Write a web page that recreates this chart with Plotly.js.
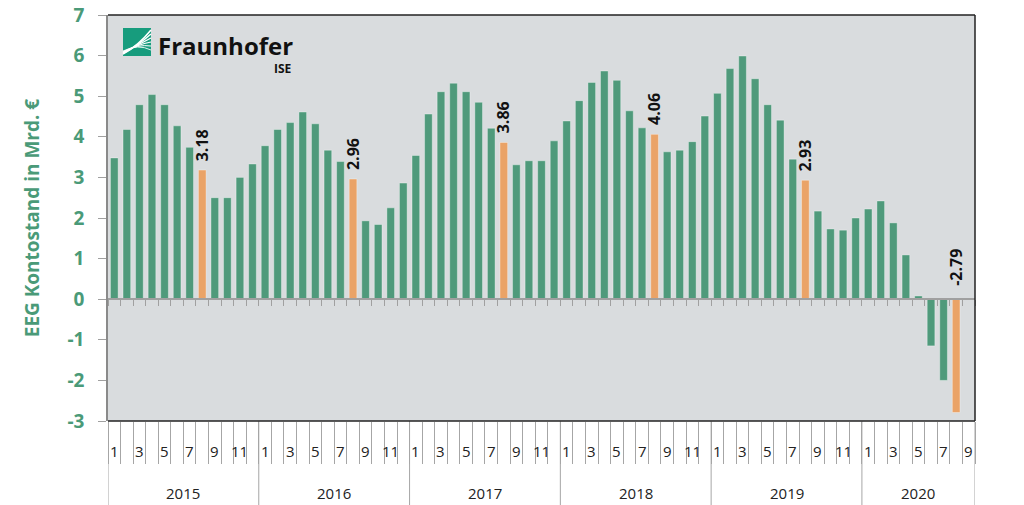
<!DOCTYPE html>
<html>
<head>
<meta charset="utf-8">
<script src="https://cdn.plot.ly/plotly-3.0.1.min.js"></script>
<style>
html, body { margin: 0; padding: 0; background: #fff; }
#chart { width: 1024px; height: 505px; }
</style>
</head>
<body>
<div id="chart"></div>
<script>
'use strict';

// ----- data (Mrd. EUR, end of month) -----
var years = ['2015', '2016', '2017', '2018', '2019', '2020'];
var monthsPerYear = [12, 12, 12, 12, 12, 9];
var monthLabels = ['1', '', '3', '', '5', '', '7', '', '9', '', '11', ''];
var yTicks = [-3, -2, -1, 0, 1, 2, 3, 4, 5, 6, 7];

var konto2015 = [3.48, 4.18, 4.79, 5.04, 4.79, 4.27, 3.74, 3.18, 2.50, 2.50, 3.00, 3.33];
var konto2016 = [3.78, 4.18, 4.35, 4.61, 4.32, 3.67, 3.39, 2.96, 1.93, 1.84, 2.25, 2.86];
var konto2017 = [3.54, 4.56, 5.11, 5.32, 5.11, 4.85, 4.21, 3.86, 3.31, 3.41, 3.41, 3.90];
var konto2018 = [4.39, 4.89, 5.34, 5.62, 5.39, 4.64, 4.22, 4.06, 3.63, 3.67, 3.88, 4.51];
var konto2019 = [5.07, 5.68, 5.99, 5.43, 4.79, 4.41, 3.45, 2.93, 2.17, 1.73, 1.70, 2.00];
var konto2020 = [2.22, 2.42, 1.88, 1.09, 0.08, -1.15, -2.00, -2.79, null];

var highlightMonth = 8; // August each year

var green = '#4f9a7b';
var orange = '#eaa367';
var axisGreen = '#4a9a78';

// ----- build series -----
var perYear = [konto2015, konto2016, konto2017, konto2018, konto2019, konto2020];
var xs = [], ys = [], colors = [], monthOf = [];
var yearStart = [];
var idx = 0;
perYear.forEach(function(vals, yi) {
	yearStart.push(idx);
	for (var m = 0; m < monthsPerYear[yi]; m++) {
		xs.push(idx);
		ys.push(vals[m]);
		monthOf.push(m + 1);
		colors.push(m + 1 === highlightMonth ? orange : green);
		idx++;
	}
});
var nMonths = idx;

// pixel -> paper helpers (plot area 108..975 x 15..421)
var L = 108, R = 975, T = 15, B = 421;
function px(p) { return (p - L) / (R - L); }
function py(p) { return (B - p) / (B - T); }

var boundaries = [];
for (var b = 0; b <= nMonths; b++) boundaries.push(b - 0.5);

var annotations = [];
var shapes = [];

// value labels on highlighted bars
xs.forEach(function(x, i) {
	if (monthOf[i] === highlightMonth && ys[i] !== null) {
		annotations.push({
			x: x, y: Math.max(ys[i], 0), xref: 'x', yref: 'y',
			text: ys[i].toFixed(2), textangle: -90,
			showarrow: false, yanchor: 'bottom', xanchor: 'center',
			yshift: ys[i] < 0 ? 11 : 7,
			font: {family: 'Open Sans', size: 16, color: '#111', weight: 'bold'}
		});
	}
});

// month labels
xs.forEach(function(x, i) {
	var t = monthLabels[monthOf[i] - 1];
	if (t) {
		annotations.push({
			x: x, y: py(451), xref: 'x', yref: 'paper', text: t,
			showarrow: false, xanchor: 'center', yanchor: 'middle',
			font: {family: 'Open Sans', size: 15, color: '#222'}
		});
	}
});

// year labels and dividers
years.forEach(function(yr, yi) {
	var s = yearStart[yi];
	annotations.push({
		x: s + (monthsPerYear[yi] - 1) / 2, y: py(493), xref: 'x', yref: 'paper',
		text: yr, showarrow: false, xanchor: 'center', yanchor: 'middle',
		font: {family: 'Open Sans', size: 15, color: '#222'}
	});
	shapes.push({type: 'line', xref: 'x', yref: 'paper', x0: s - 0.5, x1: s - 0.5,
		y0: 0, y1: py(505), line: {color: '#a6a6a6', width: 1}});
});
shapes.push({type: 'line', xref: 'x', yref: 'paper', x0: nMonths - 0.5, x1: nMonths - 0.5,
	y0: 0, y1: py(505), line: {color: '#a6a6a6', width: 1}});

// plot frame
shapes.push({type: 'line', xref: 'paper', yref: 'paper', x0: 0, x1: 1, y0: 1, y1: 1, line: {color: '#222', width: 1.5}});
shapes.push({type: 'line', xref: 'paper', yref: 'paper', x0: 1, x1: 1, y0: 0, y1: 1, line: {color: '#222', width: 1.5}});
shapes.push({type: 'line', xref: 'paper', yref: 'paper', x0: 0, x1: 1, y0: 0, y1: 0, line: {color: '#222', width: 1.5}});

// Fraunhofer logo
shapes.push({type: 'rect', xref: 'paper', yref: 'paper', x0: px(123), x1: px(151), y0: py(56), y1: py(28),
	fillcolor: '#179c7d', line: {width: 0}});
var fanEnds = [30, 34, 38, 42, 46, 50];
fanEnds.forEach(function(e, k) {
	var path = 'M ' + px(123) + ',' + py(54 - k * 0.6) +
		' Q ' + px(138) + ',' + py(46 - k * 0.5) + ' ' + px(151) + ',' + py(e);
	shapes.push({type: 'path', xref: 'paper', yref: 'paper', path: path,
		line: {color: '#fff', width: 1.6 - k * 0.15}});
});
annotations.push({xref: 'paper', yref: 'paper', x: px(156), y: py(45), xanchor: 'left', yanchor: 'middle',
	text: 'Fraunhofer', showarrow: false,
	font: {family: 'Open Sans', size: 24, color: '#111', weight: 'bold'}});
annotations.push({xref: 'paper', yref: 'paper', x: px(294), y: py(68), xanchor: 'right', yanchor: 'middle',
	text: 'ISE', showarrow: false,
	font: {family: 'Open Sans', size: 12, color: '#111', weight: 'bold'}});

var bars = {
	type: 'bar', x: xs, y: ys,
	marker: {color: colors, line: {color: 'rgba(255,255,255,0.35)', width: 1}},
	hoverinfo: 'x+y'
};
var dummy = {type: 'scatter', x: [], y: [], xaxis: 'x2', showlegend: false, hoverinfo: 'skip'};

var layout = {
	width: 1024, height: 505,
	margin: {l: L, r: 1024 - R, t: T, b: 505 - B},
	paper_bgcolor: '#fff',
	plot_bgcolor: '#d9dcde',
	showlegend: false,
	bargap: 0.39,
	xaxis: {
		range: [-0.5, nMonths - 0.5], showgrid: false, zeroline: false,
		tickmode: 'array', tickvals: boundaries, ticks: 'outside', ticklen: 42,
		tickcolor: '#a6a6a6', tickwidth: 1, showticklabels: false, showline: false
	},
	xaxis2: {
		overlaying: 'x', anchor: 'free', position: 0.3,
		range: [-0.5, nMonths - 0.5], showgrid: false, zeroline: false,
		tickmode: 'array', tickvals: boundaries, ticks: 'outside', ticklen: 6,
		tickcolor: '#a0a0a0', tickwidth: 1, showticklabels: false,
		showline: true, linecolor: '#a0a0a0', linewidth: 2
	},
	yaxis: {
		range: [-3, 7], showgrid: false, zeroline: false,
		tickmode: 'array', tickvals: yTicks, ticktext: yTicks.map(String),
		ticks: 'outside', ticklen: 8, tickcolor: '#a0a0a0',
		showline: true, linecolor: '#8a8a8a', linewidth: 1.5,
		ticklabelstandoff: 10,
		tickfont: {family: 'Open Sans', size: 19, color: axisGreen, weight: 'bold'},
		title: {text: 'EEG Kontostand in Mrd. €', standoff: 23,
			font: {family: 'Open Sans', size: 19, color: axisGreen, weight: 'bold'}}
	},
	annotations: annotations,
	shapes: shapes
};

Plotly.newPlot('chart', [bars, dummy], layout, {displayModeBar: false});
</script>
</body>
</html>
